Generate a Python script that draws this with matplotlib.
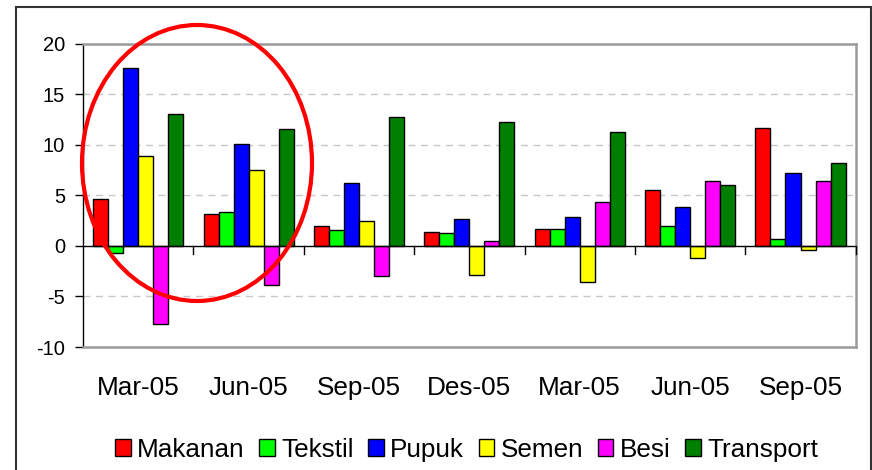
import numpy as np
import matplotlib
matplotlib.use("Agg")
import matplotlib.pyplot as plt
from matplotlib.patches import Ellipse, Rectangle

plt.rcParams['font.family'] = ['Liberation Sans', 'DejaVu Sans']

# data
kuartal = ["Mar-05", "Jun-05", "Sep-05", "Des-05", "Mar-05", "Jun-05", "Sep-05"]
makanan = [4.7, 3.2, 2.0, 1.35, 1.7, 5.5, 11.7]
tekstil = [-0.7, 3.4, 1.55, 1.3, 1.7, 2.0, 0.7]
pupuk = [17.6, 10.1, 6.2, 2.65, 2.85, 3.85, 7.2]
semen = [8.9, 7.55, 2.5, -2.85, -3.55, -1.2, -0.35]
besi = [-7.7, -3.85, -3.0, 0.5, 4.4, 6.4, 6.4]
transport = [13.1, 11.6, 12.75, 12.25, 11.25, 6.05, 8.2]

seri = ["Makanan", "Tekstil", "Pupuk", "Semen", "Besi", "Transport"]
warna = ["#FF0000", "#00FF00", "#0000FF", "#FFFF00", "#FF00FF", "#008000"]
nilai = [makanan, tekstil, pupuk, semen, besi, transport]

fig = plt.figure(figsize=(8.72, 4.70), dpi=100)
ax = fig.add_axes([0.0952, 0.2617, 0.8861, 0.6447])

x = np.arange(len(kuartal))
lebar = 0.136
for i, (nama, c, v) in enumerate(zip(seri, warna, nilai)):
    ax.bar(x + (i - 2.5) * lebar, v, lebar, color=c, edgecolor="black",
           linewidth=1.0, label=nama, zorder=3)

ax.set_xlim(-0.5, len(kuartal) - 0.5)
ax.set_ylim(-10, 20)
ax.set_yticks([-10, -5, 0, 5, 10, 15, 20])
ax.set_yticklabels(["-10", "-5", "0", "5", "10", "15", "20"])

# grid garis putus-putus
for g in [-5, 5, 10, 15]:
    ax.axhline(g, color="#C8C8C8", lw=1.0, ls=(0, (5, 4)), zorder=1)

# garis nol dengan tick pemisah kategori
ax.axhline(0, color="black", lw=1.0, zorder=4)
for b in np.arange(0.5, len(kuartal), 1.0):
    ax.plot([b, b], [0, -0.75], color="black", lw=1.0, zorder=4, clip_on=False)

ax.set_xticks(x)
ax.set_xticklabels(kuartal, fontsize=18.8)
ax.tick_params(axis="x", length=0, pad=21)
ax.tick_params(axis="y", direction="out", length=6, width=1.0, labelsize=14.5, pad=7)

for s in ["top", "right", "bottom"]:
    ax.spines[s].set_color("#9A9A9A")
    ax.spines[s].set_linewidth(1.8)
ax.spines["left"].set_color("black")
ax.spines["left"].set_linewidth(1.0)

# legenda
ax.legend(loc="center", bbox_to_anchor=(0.535, 0.043), bbox_transform=fig.transFigure,
          ncol=6, frameon=False, fontsize=18.8, handlelength=0.6, handleheight=0.6,
          handletextpad=0.25, columnspacing=0.55, borderpad=0)

# lingkaran merah
fig.add_artist(Ellipse((197 / 872, 1 - 163 / 470), 230 / 872, 276 / 470,
                       transform=fig.transFigure, fill=False, edgecolor="#FF0000",
                       linewidth=3.0, zorder=10))

# bingkai luar
fig.add_artist(Rectangle((16 / 872, -0.05), 855 / 872, 1 - 7 / 470 + 0.05,
                         transform=fig.transFigure, fill=False, edgecolor="#333333",
                         linewidth=1.5))

fig.savefig("out.png", dpi=100)
